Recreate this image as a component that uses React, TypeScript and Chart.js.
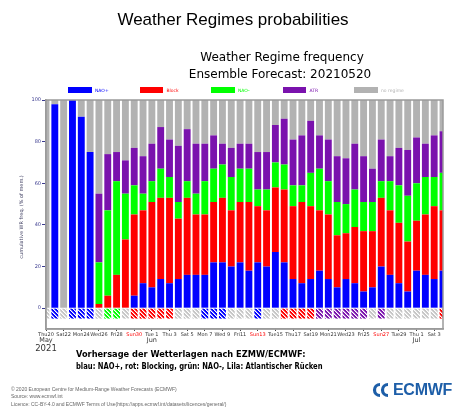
import React, { useEffect, useRef } from "react";
import { Chart, registerables } from "chart.js";

Chart.register(...registerables);

// ---------- data ----------
const categories = [
  "2021-05-20", "2021-05-21", "2021-05-22", "2021-05-23", "2021-05-24", "2021-05-25",
  "2021-05-26", "2021-05-27", "2021-05-28", "2021-05-29", "2021-05-30", "2021-05-31",
  "2021-06-01", "2021-06-02", "2021-06-03", "2021-06-04", "2021-06-05", "2021-06-06",
  "2021-06-07", "2021-06-08", "2021-06-09", "2021-06-10", "2021-06-11", "2021-06-12",
  "2021-06-13", "2021-06-14", "2021-06-15", "2021-06-16", "2021-06-17", "2021-06-18",
  "2021-06-19", "2021-06-20", "2021-06-21", "2021-06-22", "2021-06-23", "2021-06-24",
  "2021-06-25", "2021-06-26", "2021-06-27", "2021-06-28", "2021-06-29", "2021-06-30",
  "2021-07-01", "2021-07-02", "2021-07-03", "2021-07-04",
];

// labels shown on every second day
const tickLabels = [
  "Thu20", "Sat22", "Mon24", "Wed26", "Fri28", "Sun30", "Tue 1", "Thu 3", "Sat 5", "Mon 7",
  "Wed 9", "Fri11", "Sun13", "Tue15", "Thu17", "Sat19", "Mon21", "Wed23", "Fri25", "Sun27",
  "Tue29", "Thu 1", "Sat 3",
];

const monthNames = ["May", "Jun", "Jul"];
const monthStartIndex = [0, 12, 42];
const yearLabel = "2021";

// % of ensemble members per regime
const naoPlus = [0, 98, 0, 100, 92, 75, 0, 0, 0, 0, 6, 12, 10, 14, 12, 14, 16, 16, 16, 22, 22, 20, 22, 18, 22, 20, 27, 22, 14, 12, 14, 18, 14, 10, 14, 12, 8, 10, 20, 16, 12, 8, 18, 16, 14, 18];
const block = [0, 0, 0, 0, 0, 0, 2, 6, 16, 33, 39, 35, 41, 39, 41, 29, 37, 29, 29, 29, 31, 27, 29, 33, 27, 27, 31, 35, 35, 39, 35, 29, 31, 25, 22, 27, 29, 27, 33, 31, 29, 24, 24, 29, 35, 29];
const naoMinus = [0, 0, 0, 0, 0, 0, 20, 41, 45, 22, 14, 8, 10, 14, 10, 8, 8, 10, 16, 16, 16, 16, 16, 16, 8, 10, 12, 12, 10, 8, 16, 20, 16, 16, 14, 18, 14, 14, 8, 14, 18, 22, 18, 18, 14, 18];
const atr = [0, 0, 0, 0, 0, 0, 33, 27, 14, 16, 18, 18, 18, 20, 18, 27, 25, 24, 18, 16, 10, 14, 12, 12, 18, 18, 18, 22, 22, 24, 25, 16, 20, 22, 22, 22, 22, 16, 20, 12, 18, 22, 22, 16, 20, 20];

// most likely regime per day (hatched row)
const dominantRegime = [
  "none", "NAO+", "none", "NAO+", "NAO+", "NAO+", "none", "NAO-", "NAO-", "none",
  "Block", "Block", "Block", "Block", "Block", "none", "none", "none", "NAO+", "NAO+",
  "NAO+", "none", "none", "none", "NAO+", "none", "none", "Block", "Block", "Block",
  "Block", "ATR", "ATR", "ATR", "ATR", "ATR", "ATR", "none", "ATR", "none",
  "none", "none", "none", "none", "none", "Block",
];

const seriesNames = ["NAO+", "Block", "NAO-", "ATR", "no regime"];
const seriesColors = ["#0000ff", "#ff0000", "#00ff00", "#7a12ad", "#b2b2b2"];
const hatchColors: Record<string, string> = {
  "NAO+": "#0000ff",
  Block: "#ff0000",
  "NAO-": "#00ff00",
  ATR: "#7a12ad",
  none: "#c6c6c6",
};
const indicatorDepth = -5;

const yTitle = "cumulative WR freq. (% of mem.)";

const FONT = "'DejaVu Sans', sans-serif";

function makePattern(color: string): CanvasPattern | string {
  const c = document.createElement("canvas");
  c.width = 4;
  c.height = 4;
  const g = c.getContext("2d");
  if (!g) return color;
  g.fillStyle = color;
  g.fillRect(0, 0, 4, 4);
  for (let i = 0; i < 4; i++) {
    g.fillStyle = "rgba(255,255,255,1)";
    g.fillRect(i, i, 1, 1);
    g.fillStyle = "rgba(255,255,255,0.5)";
    g.fillRect((i + 1) % 4, i, 1, 1);
  }
  return g.createPattern(c, "repeat") || color;
}

export default function App() {
  const ref = useRef<HTMLCanvasElement | null>(null);

  useEffect(() => {
    document.body.style.margin = "0";
    const canvas = ref.current;
    if (!canvas) return;

    const noRegime = categories.map(
      (_, i) => 100 - naoPlus[i] - block[i] - naoMinus[i] - atr[i]
    );
    const regimes = [naoPlus, block, naoMinus, atr, noRegime];
    const patterns = dominantRegime.map((r) => makePattern(hatchColors[r]));

    const decor = {
      id: "decor",
      afterDraw(chart: any) {
        const { ctx, chartArea: a, scales } = chart;
        ctx.save();
        ctx.strokeStyle = "#9a9a9a";
        ctx.lineWidth = 1.5;
        ctx.strokeRect(a.left, a.top, a.right - a.left, a.bottom - a.top);

        ctx.fillStyle = "#333333";
        ctx.textAlign = "center";
        ctx.textBaseline = "middle";
        ctx.font = `6.5px ${FONT}`;
        monthNames.forEach((m, i) => {
          ctx.fillText(m, scales.x.getPixelForValue(monthStartIndex[i]), a.bottom + 11);
        });
        ctx.font = `8.5px ${FONT}`;
        ctx.fillText(yearLabel, scales.x.getPixelForValue(monthStartIndex[0]), a.bottom + 19.5);

        ctx.translate(22, 217);
        ctx.rotate(-Math.PI / 2);
        ctx.fillStyle = "#444466";
        ctx.font = `5px ${FONT}`;
        ctx.fillText(yTitle, 0, 0);
        ctx.restore();
      },
    };

    const chart = new Chart(canvas, {
      type: "bar",
      data: {
        labels: categories,
        datasets: [
          ...regimes.map((d, i) => ({
            label: seriesNames[i],
            data: d,
            backgroundColor: seriesColors[i],
            borderWidth: 0,
            clip: 0 as any,
          })),
          {
            label: "most likely",
            data: categories.map(() => indicatorDepth),
            backgroundColor: patterns as any,
            borderWidth: 0,
            clip: 0 as any,
          },
        ],
      },
      options: {
        animation: false,
        responsive: false,
        devicePixelRatio: 1,
        events: [],
        layout: { padding: { left: 0, right: 22, top: 100, bottom: 60 } },
        plugins: {
          legend: { display: false },
          title: { display: false },
          tooltip: { enabled: false },
        },
        datasets: { bar: { categoryPercentage: 1, barPercentage: 0.78 } },
        scales: {
          x: {
            stacked: true,
            offset: false,
            grid: {
              offset: false,
              drawOnChartArea: false,
              tickLength: 2,
              tickColor: (c: any) => (c.index % 2 === 0 ? "#444444" : "rgba(0,0,0,0)"),
            },
            border: { display: true, color: "#9a9a9a", width: 1.5 },
            ticks: {
              autoSkip: false,
              maxRotation: 0,
              minRotation: 0,
              padding: 1,
              font: { size: 5, family: FONT },
              color: (c: any) => {
                const lbl = c.index % 2 === 0 ? tickLabels[c.index / 2] : "";
                return lbl && lbl.startsWith("Sun") ? "#ff0000" : "#333333";
              },
              callback: (_v: any, i: number) => (i % 2 === 0 ? tickLabels[i / 2] : ""),
            },
            afterFit: (s: any) => {
              s.height = 30;
            },
          },
          y: {
            stacked: true,
            min: -10,
            max: 100,
            ticks: {
              stepSize: 20,
              includeBounds: false,
              padding: 1,
              font: { size: 5, family: FONT },
              color: "#3b3b8f",
            },
            grid: { drawOnChartArea: false, tickLength: 4, tickColor: "#3b3b8f" },
            border: { display: true, color: "#9a9a9a", width: 1.5 },
            afterBuildTicks: (s: any) => {
              s.ticks = s.ticks.filter((t: any) => t.value >= 0);
            },
            afterFit: (s: any) => {
              s.width = 46;
            },
          },
        },
      },
      plugins: [decor],
    });

    return () => chart.destroy();
  }, []);

  const abs = (extra: React.CSSProperties): React.CSSProperties => ({
    position: "absolute",
    whiteSpace: "nowrap",
    ...extra,
  });

  return (
    <div style={{ position: "relative", width: 465, height: 419, background: "#ffffff", overflow: "hidden" }}>
      <canvas ref={ref} width={465} height={419} style={{ position: "absolute", left: 0, top: 0 }} />

      <div style={abs({ left: 233, top: 20, transform: "translate(-50%,-50%)", font: "17px 'Liberation Sans', Arial, sans-serif", color: "#000" })}>
        Weather Regimes probabilities
      </div>
      <div style={abs({ left: 282, top: 57, transform: "translate(-50%,-50%)", font: `12px ${FONT}`, color: "#000" })}>
        Weather Regime frequency
      </div>
      <div style={abs({ left: 280, top: 74, transform: "translate(-50%,-50%)", font: `12px ${FONT}`, color: "#000" })}>
        Ensemble Forecast: 20210520
      </div>

      {seriesNames.map((n, i) => (
        <React.Fragment key={n}>
          <div style={abs({ left: 68.3 + i * 71.5, top: 87.3, width: 23.3, height: 6, background: seriesColors[i] })} />
          <div style={abs({ left: 95 + i * 71.5, top: 90.3, transform: "translateY(-50%)", font: `4.5px ${FONT}`, color: seriesColors[i] })}>
            {n}
          </div>
        </React.Fragment>
      ))}

      <div style={abs({ left: 76, top: 348, font: `bold 8.5px ${FONT}`, lineHeight: "12px", color: "#000" })}>
        <div style={{ transform: "scaleX(0.97)", transformOrigin: "left center" }}>
          Vorhersage der Wetterlagen nach EZMW/ECMWF:
        </div>
        <div style={{ transform: "scaleX(0.8)", transformOrigin: "left center" }}>
          blau: NAO+, rot: Blocking, grün: NAO-, Lila: Atlantischer Rücken
        </div>
      </div>

      <div style={abs({ left: 11, top: 386, font: "5px 'Liberation Sans', Arial, sans-serif", lineHeight: "7.3px", color: "#666" })}>
        © 2020 European Centre for Medium-Range Weather Forecasts (ECMWF)
        <br />
        Source: www.ecmwf.int
        <br />
        Licence: CC-BY-4.0 and ECMWF Terms of Use(https://apps.ecmwf.int/datasets/licences/general/)
      </div>

      <div style={abs({ left: 371, top: 381, display: "flex", alignItems: "center" })}>
        <svg width="22" height="16" viewBox="0 0 22 16">
          <path d="M9 2.5 A5.5 5.5 0 1 0 9 13.5" fill="none" stroke="#1d5ea8" strokeWidth="3.2" />
          <path d="M17 2.5 A5.5 5.5 0 1 0 17 13.5" fill="none" stroke="#1d5ea8" strokeWidth="3.2" />
        </svg>
        <span style={{ font: "bold 16px 'Liberation Sans', Arial, sans-serif", color: "#1d5ea8", letterSpacing: "-0.3px" }}>
          ECMWF
        </span>
      </div>
    </div>
  );
}
